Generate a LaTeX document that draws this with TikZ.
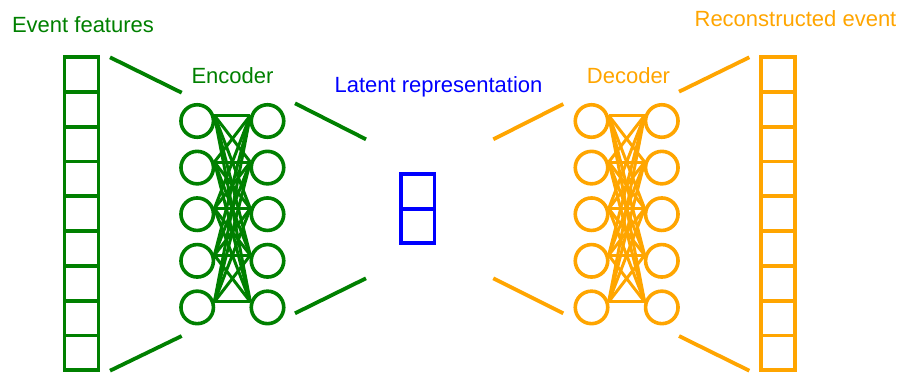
\documentclass[tikz,border=0pt]{standalone}
\usepackage{fontspec}
\setmainfont{Liberation Sans}
\definecolor{encgreen}{RGB}{0,128,0}
\definecolor{decorange}{RGB}{255,165,0}
\definecolor{latblue}{RGB}{0,0,255}
\begin{document}
\begin{tikzpicture}[x=1pt,y=-1pt,
  cell/.style={draw,line width=3.8pt,minimum width=34pt,minimum height=34.8pt,inner sep=0pt,outer sep=0pt},
  lcell/.style={draw,line width=3.8pt,minimum width=33.5pt,minimum height=34.3pt,inner sep=0pt,outer sep=0pt},
  neuron/.style={draw,circle,line width=3.6pt,minimum size=32.5pt,inner sep=0pt},
  link/.style={line width=3pt},
  funnel/.style={line width=3.8pt},
  lbl/.style={anchor=base,inner sep=0pt,font=\fontsize{22}{26}\selectfont}]
\useasboundingbox (0,0) rectangle (901,373);

% labels
\node[lbl,text=encgreen] (tin) at (83,32.3) {Event features};
\node[lbl,text=encgreen] (tenc) at (232.5,83) {Encoder};
\node[lbl,text=latblue] (tlat) at (438.5,92.3) {Latent representation};
\node[lbl,text=decorange] (tdec) at (628.5,83.3) {Decoder};
\node[lbl,text=decorange] (tout) at (795.5,26.7) {Reconstructed event};

% input and output columns
\foreach \i in {1,...,9} {
  \node[cell,draw=encgreen] (in\i) at (81.5,{57+34.8*(\i-0.5)}) {};
  \node[cell,draw=decorange] (out\i) at (777.8,{57+34.8*(\i-0.5)}) {};
}

% latent
\node[lcell,draw=latblue] (lat1) at (417.7,191.5) {};
\node[lcell,draw=latblue] (lat2) at (417.7,225.8) {};

% encoder / decoder neurons
\foreach \i in {1,...,5} {
  \node[neuron,draw=encgreen] (ea\i) at (197.2,{121+46.6*(\i-1)}) {};
  \node[neuron,draw=encgreen] (eb\i) at (267.5,{121+46.6*(\i-1)}) {};
  \node[neuron,draw=decorange] (da\i) at (591.5,{121+46.6*(\i-1)}) {};
  \node[neuron,draw=decorange] (db\i) at (661.8,{121+46.6*(\i-1)}) {};
}
\foreach \i in {1,...,5} {
  \foreach \j in {1,...,5} {
    \draw[link,encgreen] (ea\i.18) -- (eb\j.162);
    \draw[link,decorange] (da\i.18) -- (db\j.162);
  }
}

% funnel lines
\coordinate (f1a) at (110,57.3);   \coordinate (f1b) at (181.7,92.7);
\coordinate (f2a) at (110,370.7);  \coordinate (f2b) at (181.7,336);
\coordinate (f3a) at (295,103.3);  \coordinate (f3b) at (366,139.3);
\coordinate (f4a) at (295,313.3);  \coordinate (f4b) at (366,278.3);
\coordinate (f5a) at (493.3,139.3);\coordinate (f5b) at (563.3,104);
\coordinate (f6a) at (493.3,278.3);\coordinate (f6b) at (563.3,313.3);
\coordinate (f7a) at (679,91.7);   \coordinate (f7b) at (749.3,57.3);
\coordinate (f8a) at (679,336);    \coordinate (f8b) at (749.3,370.7);
\draw[funnel,encgreen] (f1a) -- (f1b);
\draw[funnel,encgreen] (f2a) -- (f2b);
\draw[funnel,encgreen] (f3a) -- (f3b);
\draw[funnel,encgreen] (f4a) -- (f4b);
\draw[funnel,decorange] (f5a) -- (f5b);
\draw[funnel,decorange] (f6a) -- (f6b);
\draw[funnel,decorange] (f7a) -- (f7b);
\draw[funnel,decorange] (f8a) -- (f8b);
\end{tikzpicture}
\end{document}
